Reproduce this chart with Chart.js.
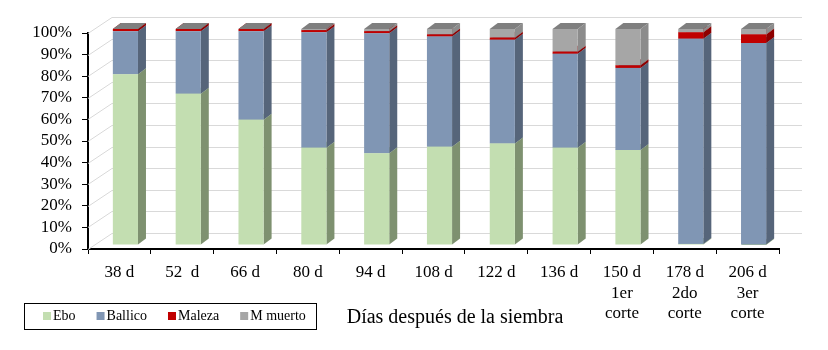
<!DOCTYPE html>
<html lang="es">
<head>
<meta charset="utf-8">
<title>Composición botánica</title>
<script src="https://cdn.jsdelivr.net/npm/chart.js@4/dist/chart.umd.min.js"></script>
<style>
  html, body { margin: 0; padding: 0; background: #fff; }
  #wrap { position: relative; width: 828px; height: 350px; }
</style>
</head>
<body>
<div id="wrap"><canvas id="chartComposicion"></canvas></div>
<script>
// Datos (porcentaje de cada componente)
const categories = [
  '38 d', '52  d', '66 d', '80 d', '94 d', '108 d', '122 d', '136 d',
  ['150 d', '1er', 'corte'], ['178 d', '2do', 'corte'], ['206 d', '3er', 'corte']
];
const seriesNames = ['Ebo', 'Ballico', 'Maleza', 'M muerto'];
const eboValues     = [79, 70, 58, 45, 42.5, 45.5, 47, 45, 44, 0.5, 0];
const ballicoValues = [20, 29, 41, 53.5, 55.5, 51, 48, 43.5, 38, 95, 93.5];
const malezaValues  = [1, 1, 1, 1, 1, 1, 1, 1, 1.2, 3, 4];
const muertoValues  = [0, 0, 0, 0.5, 1, 2.5, 4, 10.5, 16.8, 1.5, 2.5];
const xAxisTitle = 'Días después de la siembra';

// colores: cara frontal, lateral y superior (efecto 3D)
const FRONT = ['#c3deb1', '#8096b4', '#c00000', '#a6a6a6'];
const SIDE  = ['#7e9170', '#56657a', '#8e0000', '#8c8c8c'];
const TOP   = ['#a9c496', '#6d819c', '#a80000', '#7f7f7f'];

const FONT = '"Liberation Serif", "Times New Roman", serif';

// desplazamientos de la pared de fondo y de las barras
const WALL_DX = 24, WALL_DY = 16;
const BAR_DX = 6, BAR_DY = 4;
const DEPTH_X = 8, DEPTH_Y = 6;

const wall3d = {
  id: 'wall3d',
  beforeDatasetsDraw(chart) {
    const { ctx, chartArea: a, scales: { y } } = chart;
    ctx.save();
    ctx.strokeStyle = '#d9d9d9';
    ctx.lineWidth = 1;
    y.ticks.forEach(t => {
      const py = Math.round(y.getPixelForValue(t.value)) + 0.5;
      ctx.beginPath();
      ctx.moveTo(a.left, py);
      ctx.lineTo(a.left + WALL_DX, py - WALL_DY);
      ctx.lineTo(a.right + WALL_DX - 1, py - WALL_DY);
      ctx.stroke();
    });
    ctx.restore();

    // caras laterales y superiores, detrás de las frontales
    ctx.save();
    ctx.translate(BAR_DX, -BAR_DY);
    chart.data.datasets.forEach((ds, i) => {
      const meta = chart.getDatasetMeta(i);
      meta.data.forEach(bar => {
        const { x, y: top, base, width } = bar.getProps(['x', 'y', 'base', 'width'], true);
        const l = x - width / 2, r = x + width / 2;
        ctx.fillStyle = SIDE[i];
        ctx.beginPath();
        ctx.moveTo(r, base);
        ctx.lineTo(r + DEPTH_X, base - DEPTH_Y);
        ctx.lineTo(r + DEPTH_X, top - DEPTH_Y);
        ctx.lineTo(r, top);
        ctx.closePath();
        ctx.fill();
        ctx.fillStyle = TOP[i];
        ctx.beginPath();
        ctx.moveTo(l, top);
        ctx.lineTo(l + DEPTH_X, top - DEPTH_Y);
        ctx.lineTo(r + DEPTH_X, top - DEPTH_Y);
        ctx.lineTo(r, top);
        ctx.closePath();
        ctx.fill();
      });
    });
  },
  afterDatasetsDraw(chart) {
    chart.ctx.restore();
  }
};

const legendBox = {
  id: 'legendBox',
  afterDraw(chart) {
    const { ctx } = chart;
    ctx.save();
    ctx.strokeStyle = '#000';
    ctx.lineWidth = 1;
    ctx.strokeRect(24.5, 303.5, 292, 26);
    ctx.font = '14px ' + FONT;
    ctx.fillStyle = '#000';
    ctx.textBaseline = 'middle';
    ctx.textAlign = 'left';
    let x = 43;
    chart.data.datasets.forEach((ds, i) => {
      ctx.fillStyle = FRONT[i];
      ctx.fillRect(x, 312, 8, 8);
      ctx.fillStyle = '#000';
      ctx.fillText(ds.label, x + 10, 316.5);
      x += 10 + ctx.measureText(ds.label).width + 21;
    });
    ctx.font = '20px ' + FONT;
    ctx.textAlign = 'center';
    ctx.fillText(xAxisTitle, 455, 318);
    ctx.restore();
  }
};

const allValues = [eboValues, ballicoValues, malezaValues, muertoValues];

new Chart(document.getElementById('chartComposicion'), {
  type: 'bar',
  data: {
    labels: categories,
    datasets: seriesNames.map((name, i) => ({
      label: name,
      data: allValues[i],
      backgroundColor: FRONT[i],
      borderWidth: 0,
      barPercentage: 0.4,
      categoryPercentage: 1,
      clip: false
    }))
  },
  options: {
    responsive: true,
    maintainAspectRatio: false,
    animation: false,
    layout: { padding: { left: 0, right: 49, top: 33, bottom: 0 } },
    scales: {
      x: {
        stacked: true,
        afterFit: (scale) => { scale.height = 101; },
        grid: { drawOnChartArea: false, color: '#000', tickLength: 5, offset: true },
        border: { color: '#000', width: 2 },
        ticks: {
          color: '#000',
          padding: 8,
          maxRotation: 0,
          autoSkip: false,
          font: { family: 'Liberation Serif', size: 17, lineHeight: 1.22 }
        }
      },
      y: {
        stacked: true,
        min: 0,
        max: 100,
        afterFit: (scale) => { scale.width = 88; },
        grid: { drawOnChartArea: false, color: '#000', tickLength: 6 },
        border: { color: '#000', width: 2 },
        ticks: {
          stepSize: 10,
          autoSkip: false,
          color: '#000',
          padding: 10,
          font: { family: 'Liberation Serif', size: 17 },
          callback: (v) => v + '%'
        }
      }
    },
    plugins: {
      legend: { display: false },
      tooltip: { enabled: false }
    }
  },
  plugins: [wall3d, legendBox]
});
</script>
</body>
</html>
